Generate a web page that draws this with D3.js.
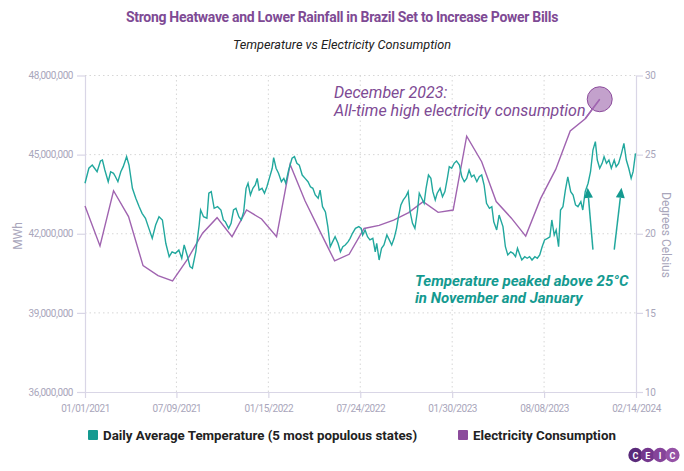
<!DOCTYPE html>
<html><head><meta charset="utf-8">
<script src="https://cdn.jsdelivr.net/npm/d3@7"></script>
<style>body{margin:0;background:#fff;} svg{display:block;font-family:Roboto,sans-serif;}</style>
</head><body><svg id="c" width="684" height="471"></svg>
<script>
// ---------------- DATA ----------------
const xTickDates = ["2021-01-01","2021-07-09","2022-01-15","2022-07-24","2023-01-30","2023-08-08","2024-02-14"];
const xTickLabels = ["01/01/2021","07/09/2021","01/15/2022","07/24/2022","01/30/2023","08/08/2023","02/14/2024"];
const leftTicks = [36000000,39000000,42000000,45000000,48000000];
const rightTicks = [10,15,20,25,30];

// Electricity consumption (MWh), monthly
const elecMonths = ["2021-01-01","2021-02-01","2021-03-01","2021-04-01","2021-05-01","2021-06-01","2021-07-01","2021-08-01","2021-09-01","2021-10-01","2021-11-01","2021-12-01",
 "2022-01-01","2022-02-01","2022-03-01","2022-04-01","2022-05-01","2022-06-01","2022-07-01","2022-08-01","2022-09-01","2022-10-01","2022-11-01","2022-12-01",
 "2023-01-01","2023-02-01","2023-03-01","2023-04-01","2023-05-01","2023-06-01","2023-07-01","2023-08-01","2023-09-01","2023-10-01","2023-11-01","2023-12-01"];
const elecValues = [43050000,41540000,43630000,42650000,40790000,40410000,40210000,41040000,42020000,42610000,41890000,42900000,
 42560000,41890000,44630000,43240000,42120000,40970000,41220000,42200000,42320000,42520000,42800000,43220000,
 42810000,42900000,45700000,44730000,43220000,42600000,41910000,43340000,44440000,45900000,46360000,47100000];

// Daily average temperature (°C), read at these day offsets from 01/01/2021
const tempDays = [0,8,15,19,25,32,36,41,48,53,59,63,68,74,79,86,91,98,105,112,118,125,132,139,146,153,160,167,174,180,187,194,200,205,211,217,222,229,236,239,245,252,256,261,267,274,281,286,
 290,297,302,307,312,318,323,328,333,337,342,347,352,356,360,366,371,376,381,387,390,395,400,406,411,415,421,428,433,438,443,449,455,461,466,471,476,482,486,491,497,502,507,512,517,523,528,533,538,544,548,553,559,566,571,
 574,579,584,589,595,600,603,608,613,618,624,629,634,639,644,648,653,658,663,668,672,677,682,687,691,696,701,705,710,715,719,724,728,734,739,744,749,753,758,763,768,774,779,784,789,794,799,804,810,815,820,825,830,836,841,845,851,856,
 864,869,874,880,885,890,894,899,903,909,914,919,924,930,935,940,945,950,956,961,965,970,974,979,983,988,993,998,1004,1009,1014,1019,1025,1029,1034,1040,1045,1050,1055,1059,1064,1069,1073,1078,1083,1088,1094,1098,1103,1109,1114,1119,1124,1129,1133,1138];
const tempValues = [23.19,24.14,24.34,24.17,23.92,24.60,24.66,24.03,23.29,23.92,23.82,23.60,23.29,23.92,24.24,24.87,24.34,22.87,22.24,21.71,21.29,20.98,20.34,19.71,20.55,21.08,20.87,19.40,18.55,18.86,18.76,18.97,18.45,19.29,18.66,17.92,17.82,18.86,20.55,21.50,21.08,20.98,22.56,22.66,21.61,21.71,21.50,20.87,
 20.76,20.34,20.66,21.50,21.61,21.08,20.87,21.38,22.87,23.19,22.45,22.87,23.08,23.50,22.76,22.87,22.56,22.97,23.50,24.14,24.81,24.14,23.82,23.29,23.50,23.19,24.03,24.77,24.87,24.45,24.34,23.71,23.50,23.29,22.97,22.87,22.45,22.24,22.76,21.71,21.38,20.45,19.18,19.50,19.82,19.40,18.86,19.18,19.29,19.50,19.71,20.03,20.34,20.45,20.34,
 19.92,20.24,19.81,19.61,19.71,18.86,19.40,18.34,19.08,19.29,19.92,19.61,19.29,19.71,20.34,21.08,21.82,22.14,22.34,22.66,21.39,20.66,20.34,21.39,22.56,22.24,21.92,22.87,23.71,23.50,22.66,22.14,22.56,22.87,22.34,22.66,23.50,24.24,24.14,24.45,24.60,24.34,23.60,23.29,23.50,24.03,23.60,23.71,23.29,23.60,23.71,23.08,21.92,21.61,21.71,20.76,20.24,21.18,
 20.45,19.18,18.66,18.86,18.76,18.55,19.08,18.66,18.34,18.55,18.45,18.55,18.34,18.55,18.45,18.66,19.18,19.61,19.71,19.81,20.87,19.92,20.24,19.18,21.50,21.71,22.76,23.60,22.66,22.45,21.82,21.71,22.03,21.50,22.66,23.19,23.92,25.29,25.82,24.66,24.14,24.45,24.87,24.45,24.66,24.14,24.66,24.24,24.45,25.08,25.71,24.66,24.14,23.50,23.92,25.08];

const legendLabels = ["Daily Average Temperature (5 most populous states)","Electricity Consumption"];

// ---------------- CHART ----------------
const C = {teal:"#22a89e", tealDark:"#149a90", purple:"#a064b0", purpleDark:"#8c4c9c", title:"#7e4a94",
  axis:"#d9d6e6", tick:"#a9a6bb", grid:"#d6d6d6"};
const svg = d3.select("#c");
const parse = d3.utcParse("%Y-%m-%d");
const start = parse("2021-01-01");
const M = {l:85, r:636, t:75.5, b:392};

const x = d3.scaleUtc().domain([parse(xTickDates[0]), parse(xTickDates[xTickDates.length-1])]).range([M.l, M.r]);
const yL = d3.scaleLinear().domain([36000000,48000000]).range([M.b, M.t]);
const yR = d3.scaleLinear().domain([10,30]).range([M.b, M.t]);

const elec = elecMonths.map((d,i)=>({date:parse(d), v:elecValues[i]}));
const temp = tempDays.map((d,i)=>({date:d3.utcDay.offset(start,d), v:tempValues[i]}));

// Title
svg.append("text").attr("x",342).attr("y",22).attr("text-anchor","middle")
  .attr("font-weight",700).attr("font-size",14).attr("letter-spacing",-0.3).attr("fill",C.title)
  .text("Strong Heatwave and Lower Rainfall in Brazil Set to Increase Power Bills");
svg.append("text").attr("x",342).attr("y",49).attr("text-anchor","middle")
  .attr("font-style","italic").attr("font-size",12.7).attr("fill","#222")
  .text("Temperature vs Electricity Consumption");

// grid
const g = svg.append("g");
g.selectAll(".hg").data(leftTicks.slice(1)).join("line")
  .attr("x1",M.l).attr("x2",M.r).attr("y1",d=>yL(d)).attr("y2",d=>yL(d))
  .attr("stroke",C.grid).attr("stroke-dasharray","1.5,3").attr("stroke-width",1);
g.selectAll(".vg").data(xTickDates.slice(1,-1)).join("line")
  .attr("x1",d=>x(parse(d))).attr("x2",d=>x(parse(d))).attr("y1",M.t).attr("y2",M.b)
  .attr("stroke",C.grid).attr("stroke-dasharray","1.5,3").attr("stroke-width",1);

// axes
function styleAxis(sel){
  sel.select(".domain").attr("stroke",C.axis).attr("stroke-width",1.2);
  sel.selectAll(".tick line").attr("stroke",C.axis).attr("stroke-width",1.2);
  sel.selectAll(".tick text").attr("fill",C.tick).attr("font-size",10).attr("letter-spacing",-0.45).attr("font-family","Roboto");
}
svg.append("g").attr("transform",`translate(${M.l},0)`)
  .call(d3.axisLeft(yL).tickValues(leftTicks).tickFormat(d3.format(",")).tickSize(8).tickSizeOuter(0).tickPadding(4))
  .call(styleAxis);
svg.append("g").attr("transform",`translate(${M.r},0)`)
  .call(d3.axisRight(yR).tickValues(rightTicks).tickSize(7).tickSizeOuter(0).tickPadding(2))
  .call(styleAxis);
svg.append("g").attr("transform",`translate(0,${M.b})`)
  .call(d3.axisBottom(x).tickValues(xTickDates.map(parse)).tickFormat((d,i)=>xTickLabels[i]).tickSize(6).tickSizeOuter(0).tickPadding(7))
  .call(styleAxis);

// axis titles
svg.append("text").attr("transform","translate(21.5,236) rotate(-90)").attr("text-anchor","middle")
  .attr("font-size",12).attr("fill",C.tick).text("MWh");
svg.append("text").attr("transform","translate(662,235) rotate(90)").attr("text-anchor","middle")
  .attr("font-size",12).attr("fill",C.tick).text("Degrees Celsius");

// lines
svg.append("path").datum(elec)
  .attr("d",d3.line().x(d=>x(d.date)).y(d=>yL(d.v)))
  .attr("fill","none").attr("stroke",C.purple).attr("stroke-width",1.4);
svg.append("path").datum(temp)
  .attr("d",d3.line().x(d=>x(d.date)).y(d=>yR(d.v)))
  .attr("fill","none").attr("stroke",C.teal).attr("stroke-width",1.4);

// annotation: December 2023 high
const last = elec[elec.length-1];
svg.append("circle").attr("cx",x(last.date)).attr("cy",yL(last.v)).attr("r",12.5)
  .attr("fill","#b48abf").attr("fill-opacity",0.8).attr("stroke",C.purpleDark).attr("stroke-width",1);
svg.append("line").attr("x1",x(elec[elec.length-2].date)).attr("y1",yL(elec[elec.length-2].v))
  .attr("x2",x(last.date)).attr("y2",yL(last.v)).attr("stroke",C.purple).attr("stroke-width",1.4);
const at = svg.append("text").attr("font-style","italic").attr("font-size",16).attr("fill",C.title);
at.append("tspan").attr("x",334).attr("y",98).text("December 2023:");
at.append("tspan").attr("x",334).attr("y",116).text("All-time high electricity consumption");

// annotation: temperature
const tt = svg.append("text").attr("font-style","italic").attr("font-weight",700).attr("font-size",15).attr("fill",C.tealDark);
tt.append("tspan").attr("x",415).attr("y",286).text("Temperature peaked above 25°C");
tt.append("tspan").attr("x",415).attr("y",303).text("in November and January");

// arrows (anchored in data space)
const arrows = [
  {from:["2023-11-17",19.0], to:["2023-11-06",22.9]},
  {from:["2023-12-31",19.0], to:["2024-01-15",22.9]}
];
arrows.forEach(a=>{
  const x1=x(parse(a.from[0])), y1=yR(a.from[1]), x2=x(parse(a.to[0])), y2=yR(a.to[1]);
  const ang=Math.atan2(y2-y1,x2-x1), L=10, W=4.5;
  const bx=x2-L*Math.cos(ang), by=y2-L*Math.sin(ang);
  svg.append("line").attr("x1",x1).attr("y1",y1).attr("x2",bx).attr("y2",by).attr("stroke",C.teal).attr("stroke-width",1.5);
  const px=-Math.sin(ang)*W, py=Math.cos(ang)*W;
  svg.append("path").attr("d",`M${x2},${y2}L${bx+px},${by+py}L${bx-px},${by-py}Z`).attr("fill",C.tealDark);
});

// legend
const lg = svg.append("g").attr("font-size",13.3).attr("font-weight",700).attr("fill","#222");
const legX = [88,458], legC=[C.tealDark, C.purpleDark];
legendLabels.forEach((t,i)=>{
  lg.append("rect").attr("x",legX[i]).attr("y",430).attr("width",10).attr("height",10).attr("rx",1).attr("fill",legC[i]);
  lg.append("text").attr("x",legX[i]+15).attr("y",440).text(t);
});

// CEIC logo
const logoCols=["#5a2a7a","#74378d","#85449a","#9552a6"], letters=["C","E","I","C"];
letters.forEach((l,i)=>{
  const cx=635.5+i*12.3;
  svg.append("circle").attr("cx",cx).attr("cy",455).attr("r",7.2).attr("fill",logoCols[i]);
  svg.append("text").attr("x",cx).attr("y",458.5).attr("text-anchor","middle").attr("font-size",9).attr("font-weight",700).attr("fill","#fff").text(l);
});
</script></body></html>
